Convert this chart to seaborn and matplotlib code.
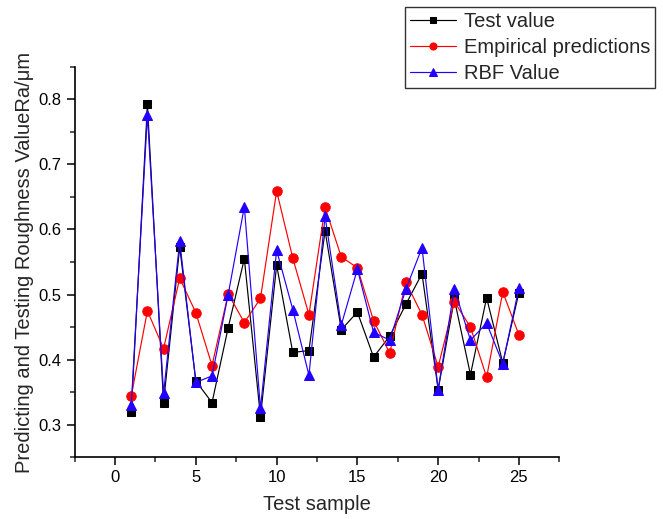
import matplotlib
matplotlib.use("Agg")
import matplotlib.pyplot as plt
import seaborn as sns
import numpy as np
import pandas as pd
from matplotlib.ticker import MultipleLocator

samples = list(range(1, 26))
test_value = [0.319, 0.792, 0.334, 0.573, 0.367, 0.334, 0.449, 0.555, 0.312, 0.545,
              0.411, 0.414, 0.598, 0.446, 0.473, 0.404, 0.436, 0.485, 0.532, 0.354,
              0.493, 0.377, 0.495, 0.395, 0.503]
empirical = [0.344, 0.475, 0.417, 0.525, 0.472, 0.391, 0.501, 0.457, 0.494, 0.659,
             0.556, 0.469, 0.634, 0.558, 0.541, 0.460, 0.410, 0.519, 0.469, 0.389,
             0.489, 0.450, 0.373, 0.504, 0.438]
rbf_value = [0.330, 0.776, 0.348, 0.582, 0.365, 0.375, 0.500, 0.635, 0.325, 0.568,
             0.477, 0.376, 0.620, 0.453, 0.539, 0.442, 0.430, 0.508, 0.572, 0.354,
             0.509, 0.430, 0.456, 0.394, 0.510]
series_names = ["Test value", "Empirical predictions", "RBF Value"]

sns.set_style("ticks")
plt.rcParams['font.family'] = ['Liberation Sans', 'DejaVu Sans']

fig = plt.figure(figsize=(6.63, 5.19), dpi=100)
ax = fig.add_axes([0.1127, 0.1189, 0.7309, 0.7526])

styles = [
    (test_value, "black", "s", 6.3),
    (empirical, "#FF0000", "o", 6.8),
    (rbf_value, "#2200FF", "^", 7.8),
]
for (vals, col, mk, ms), name in zip(styles, series_names):
    sns.lineplot(x=samples, y=vals, ax=ax, color=col, marker=mk, markersize=ms,
                 markeredgecolor=col, linewidth=0.85, label=name, alpha=1.0)

ax.set_xlim(-2.5, 27.5)
ax.set_ylim(0.25, 0.85)
ax.xaxis.set_major_locator(MultipleLocator(5))
ax.xaxis.set_minor_locator(MultipleLocator(2.5))
ax.yaxis.set_major_locator(MultipleLocator(0.1))
ax.yaxis.set_minor_locator(MultipleLocator(0.05))
ax.tick_params(which='major', direction='out', length=6, width=1.1, labelsize=12, colors='black')
ax.tick_params(which='minor', direction='out', length=3.5, width=1.1)
ax.set_yticks([0.3, 0.4, 0.5, 0.6, 0.7, 0.8])
ax.set_yticklabels(["0.3", "0.4", "0.5", "0.6", "0.7", "0.8"])

for s in ['top', 'right']:
    ax.spines[s].set_visible(False)
for s in ['left', 'bottom']:
    ax.spines[s].set_linewidth(1.2)
    ax.spines[s].set_color('black')

ax.set_xlabel("Test sample", fontsize=14.5, labelpad=7)
ax.set_ylabel("Predicting and Testing Roughness ValueRa/μm", fontsize=14.5, labelpad=3)

leg = ax.legend(loc='upper right', bbox_to_anchor=(0.988, 0.986), bbox_transform=fig.transFigure,
                fontsize=14.5, frameon=True, fancybox=False, edgecolor='black',
                handlelength=2.25, handletextpad=0.4, labelspacing=0.33, borderpad=0.25,
                borderaxespad=0, markerscale=0.75)
leg.get_frame().set_linewidth(1.0)

fig.savefig("out.png", dpi=100)
